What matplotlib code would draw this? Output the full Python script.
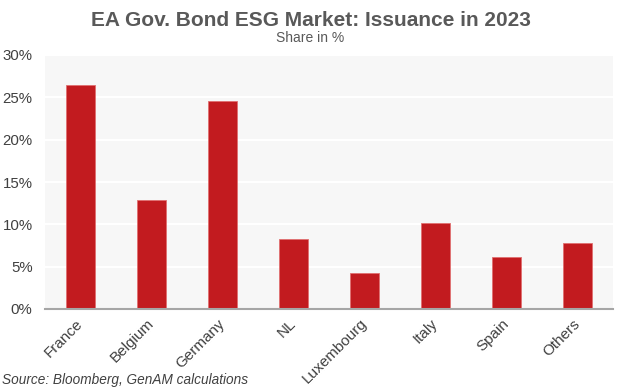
import matplotlib
matplotlib.use("Agg")
import matplotlib.pyplot as plt
from matplotlib.ticker import FuncFormatter

categories = ["France", "Belgium", "Germany", "NL", "Luxembourg", "Italy", "Spain", "Others"]
shares = [26.5, 12.9, 24.6, 8.3, 4.2, 10.2, 6.1, 7.8]
yticks = [0, 5, 10, 15, 20, 25, 30]

plt.rcParams['font.family'] = ['Liberation Sans', 'DejaVu Sans']

fig = plt.figure(figsize=(6.21, 3.90), dpi=100)
ax = fig.add_axes([45/621, 1 - 309/390, 568/621, 254/390])
ax.set_facecolor("#f7f7f7")
ax.bar(range(len(categories)), shares, width=0.41, color="#c21b1f", edgecolor="#e07070", linewidth=0.6, zorder=3)
ax.set_xlim(-0.5, len(categories) - 0.5)
ax.set_ylim(0, 30)
ax.set_yticks(yticks)
ax.yaxis.set_major_formatter(FuncFormatter(lambda v, p: f"{v:.0f}%"))
ax.grid(axis="y", color="white", linewidth=1.5, zorder=1)
for s in ["top", "right", "left"]:
    ax.spines[s].set_visible(False)
ax.spines["bottom"].set_color("#a6a6a6")
ax.spines["bottom"].set_linewidth(1.5)
ax.spines["bottom"].set_zorder(4)
ax.tick_params(axis="x", length=0, labelsize=11, labelcolor="#404040", pad=9)
ax.tick_params(axis="y", length=0, labelsize=10.8, labelcolor="#404040", pad=9)
ax.set_xticks(range(len(categories)))
ax.set_xticklabels(categories, rotation=45, ha="right", va="center", rotation_mode="anchor")

fig.text(0.5, 1 - 20/390, "EA Gov. Bond ESG Market: Issuance in 2023", ha="center", va="center",
         fontsize=15, fontweight="bold", color="#595959")
fig.text(0.5, 1 - 38/390, "Share in %", ha="center", va="center", fontsize=10, color="#595959")
fig.text(2/621, 1 - 380/390, "Source: Bloomberg, GenAM calculations", ha="left", va="center",
         fontsize=9.8, style="italic", color="#404040")

fig.savefig("out.png", dpi=100)
